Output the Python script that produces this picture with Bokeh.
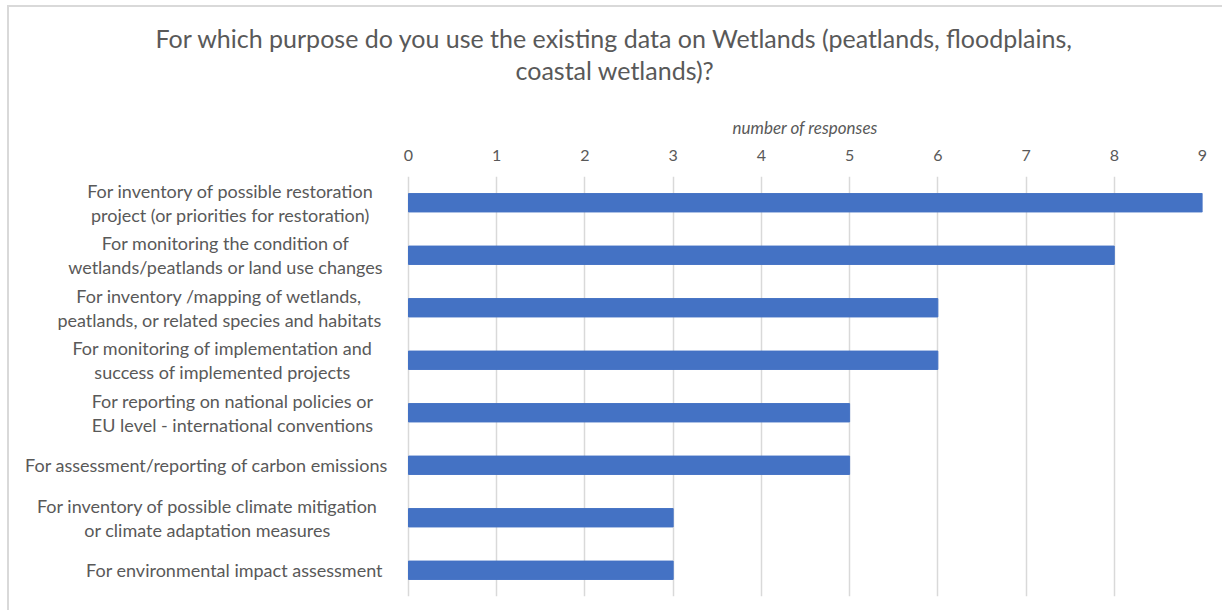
from bokeh.plotting import figure
from bokeh.models import ColumnDataSource, Title, Range1d, FactorRange, FixedTicker
from bokeh.core.properties import value
from bokeh.embed import file_html
from bokeh.resources import INLINE

# Survey answers: purposes for using existing wetland data
purposes = [
    "For inventory of possible restoration\nproject (or priorities for restoration)",
    "For monitoring the condition of\nwetlands/peatlands or land use changes",
    "For inventory /mapping of wetlands,\npeatlands, or related species and habitats",
    "For monitoring of implementation and\nsuccess of implemented projects",
    "For reporting on national policies or\nEU level - international conventions",
    "For assessment/reporting of carbon emissions",
    "For inventory of possible climate mitigation\nor climate adaptation measures",
    "For environmental impact assessment",
]
responses = [9, 8, 6, 6, 5, 5, 3, 3]
x_ticks = [0, 1, 2, 3, 4, 5, 6, 7, 8, 9]

TITLE_1 = "For which purpose do you use the existing data on Wetlands (peatlands, floodplains,"
TITLE_2 = "coastal wetlands)?"
AXIS_TITLE = "number of responses"
FONT = "Lato"
GREY = "#595959"

# layout in pixels: the frame also holds the category label column on its left
W, H = 1215, 605
LABEL_COL = 399          # width of the label column left of value 0
RIGHT_PAD = 22
px_per_unit = (W - RIGHT_PAD - LABEL_COL) / 9
# centre of each wrapped category label, in pixels left of value 0
label_dx = [-178, -183, -189, -186, -176, -202, -201, -174]

bars = ColumnDataSource(dict(purpose=purposes, n=responses))
labels = ColumnDataSource(dict(purpose=purposes, x=[0] * len(purposes), dx=label_dx))

p = figure(
    width=W, height=H,
    x_range=Range1d(-LABEL_COL / px_per_unit, 9),
    y_range=FactorRange(*reversed(purposes), range_padding=0),
    x_axis_location="above", y_axis_location=None,
    output_backend="svg", toolbar_location=None,
    min_border_left=0, min_border_right=RIGHT_PAD, min_border_top=169, min_border_bottom=16,
)
p.margin = (5, 0, 0, 7)
p.styles = {"border-left": "2px solid #d9d9d9", "border-top": "2px solid #d9d9d9"}
p.outline_line_color = None
p.background_fill_color = "white"
p.border_fill_color = "white"

p.hbar(y="purpose", right="n", left=0, height=0.35, color="#4472C4", source=bars)

# category labels: block centred, each line centred within it
p.text(x="x", y="purpose", text="purpose", x_offset="dx", source=labels,
       text_align="center", text_baseline="middle",
       text_font=value(FONT), text_font_size=value("18px"), text_color=GREY,
       text_line_height=1.1)

# value axis on top (tick labels only)
xa = p.xaxis[0]
xa.ticker = FixedTicker(ticks=x_ticks)
xa.major_label_text_font = FONT
xa.major_label_text_font_size = "16px"
xa.major_label_text_color = GREY
xa.major_label_standoff = 10
xa.axis_line_color = None
xa.major_tick_line_color = None
xa.minor_tick_line_color = None

# stacked from the axis outwards: axis title, a blank gap, then the two title lines
for text, shift, size, style, gap in [
    (AXIS_TITLE, 723, "17px", "italic", 17),
    (" ", 0, "1px", "normal", 18),
    (TITLE_2, 506, "25px", "normal", 1),
    (TITLE_1, 146, "25px", "normal", 0),
]:
    p.add_layout(Title(
        text=text, align="left", offset=shift, standoff=gap,
        text_font=FONT, text_font_size=size, text_font_style=style, text_color=GREY,
    ), "above")

p.ygrid.grid_line_color = None
p.xgrid.grid_line_color = "#d9d9d9"
p.xgrid.grid_line_width = 1.5

open("out.html", "w").write(file_html(p, INLINE))
